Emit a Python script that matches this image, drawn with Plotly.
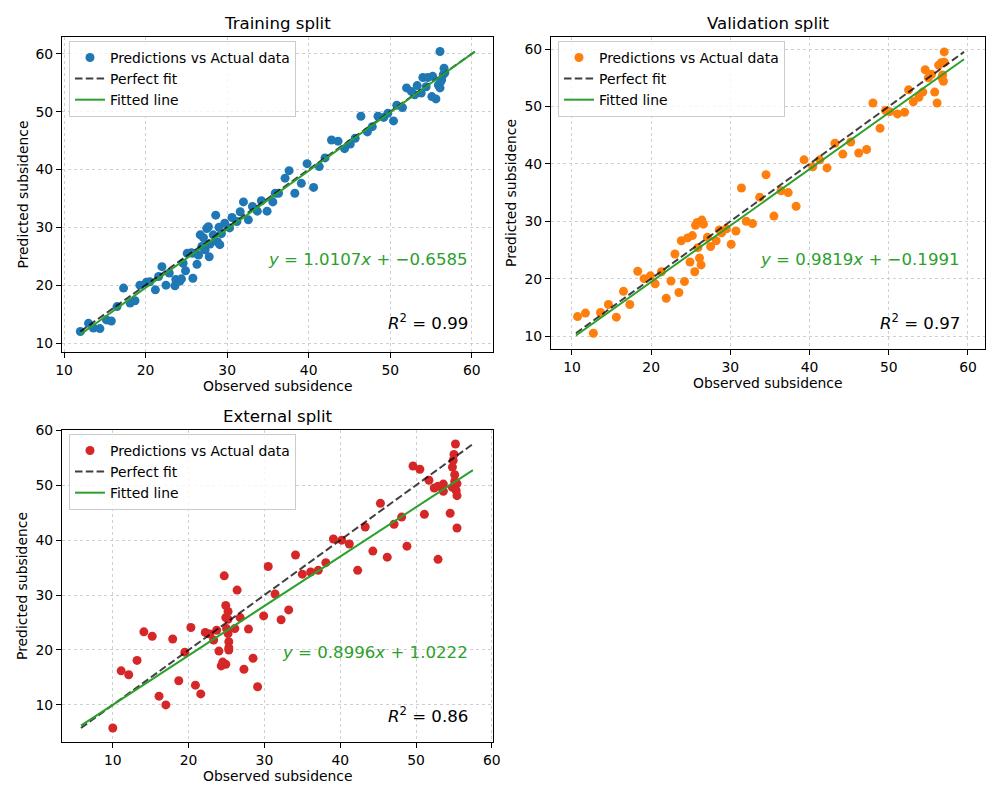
import numpy as np
import plotly.graph_objects as go

# ---------------- data ----------------
train_obs = [12.0, 13.0, 13.6, 14.4, 15.2, 15.8, 16.5, 17.3, 18.1, 18.7, 19.3, 20.1, 20.5, 21.2, 21.6,
             22.0, 22.5, 22.9, 23.6, 23.7, 24.2, 24.4, 24.9, 24.6, 25.1, 25.6, 25.8, 25.8, 26.5, 26.3,
             26.7, 26.9, 27.1, 27.3, 27.5, 27.7, 27.8, 27.9, 28.3, 28.6, 28.8, 29.1, 29.0, 29.3, 29.7,
             30.3, 30.6, 31.2, 31.6, 32.0, 32.6, 33.1, 33.7, 34.2, 34.9, 35.9, 35.6, 36.3, 37.1, 37.6,
             38.3, 39.1, 39.8, 40.6, 41.3, 42.0, 42.8, 43.6, 44.4, 45.1, 45.7, 46.4, 47.2, 47.8, 48.5,
             49.2, 49.7, 50.4, 50.8, 51.5, 52.0, 52.6, 53.0, 53.3, 53.8, 54.0, 54.4, 54.6, 55.1, 55.6,
             55.2, 55.9, 56.1, 56.1, 56.3, 56.5, 56.6, 56.7, 56.2]
train_pred = [12.0, 13.4, 12.6, 12.5, 14.0, 13.8, 16.3, 19.5, 16.9, 17.3, 20.0, 20.5, 20.6, 19.2, 21.5,
              23.2, 20.0, 22.1, 19.9, 21.0, 20.7, 21.1, 22.5, 23.8, 25.5, 25.6, 21.2, 25.5, 25.2, 23.6,
              28.7, 26.7, 28.2, 26.1, 29.8, 30.1, 24.9, 27.1, 28.7, 32.1, 27.5, 27.0, 30.0, 28.9, 30.7,
              29.9, 31.7, 31.0, 32.7, 34.4, 31.3, 33.6, 32.8, 34.6, 32.8, 35.9, 34.4, 35.9, 38.5, 39.8,
              35.9, 37.6, 41.0, 36.9, 40.5, 42.0, 45.1, 44.9, 43.6, 44.4, 45.4, 49.2, 46.5, 47.4, 49.2,
              49.0, 49.7, 48.4, 51.1, 50.7, 54.1, 53.5, 52.9, 54.5, 53.2, 55.9, 54.3, 55.9, 52.6, 52.2,
              56.1, 54.6, 60.4, 54.1, 55.5, 56.4, 57.5, 56.7, 55.2]

val_obs = [10.7, 11.7, 12.7, 13.6, 14.6, 15.6, 16.5, 17.3, 18.3, 19.1, 19.9, 20.5, 21.3, 21.9, 22.5,
           23.0, 23.5, 23.8, 24.2, 24.6, 24.9, 25.2, 25.5, 25.6, 25.8, 25.9, 26.1, 26.3, 26.4, 26.6,
           27.1, 27.5, 28.2, 28.6, 28.9, 29.5, 30.1, 30.7, 31.4, 32.0, 32.8, 33.7, 34.5, 35.5, 36.4,
           37.3, 38.3, 39.3, 40.4, 41.3, 42.2, 43.2, 44.2, 45.2, 46.2, 47.2, 48.0, 48.9, 49.6, 50.1,
           51.1, 52.0, 52.5, 53.1, 53.8, 54.3, 54.6, 55.0, 55.4, 55.8, 56.1, 56.3, 56.6, 56.7, 56.9,
           57.0, 57.0, 56.8]
val_pred = [13.4, 14.0, 10.5, 14.1, 15.5, 13.3, 17.8, 15.5, 21.3, 20.0, 20.5, 19.1, 21.2, 16.6, 19.6,
            24.3, 17.6, 26.6, 19.5, 27.1, 22.9, 27.5, 21.2, 29.3, 29.8, 25.4, 23.6, 22.4, 30.2, 29.5,
            27.2, 25.6, 26.6, 28.5, 28.0, 28.7, 26.0, 28.3, 35.8, 30.0, 29.6, 34.2, 38.1, 30.9, 35.3,
            35.0, 32.6, 40.7, 39.5, 40.7, 39.3, 43.6, 41.7, 43.8, 41.9, 42.5, 50.6, 46.2, 49.3, 49.1,
            48.7, 49.0, 52.9, 50.8, 51.6, 52.5, 56.4, 55.0, 55.6, 52.5, 50.6, 57.2, 57.6, 55.0, 54.4,
            59.5, 57.7, 55.5]

ext_obs = [10.0, 11.1, 12.1, 13.2, 14.1, 15.2, 16.1, 17.0, 17.9, 18.7, 19.5, 20.3, 20.9, 21.6, 22.2,
           22.8, 23.3, 23.7, 24.0, 24.3, 24.5, 24.7, 24.9, 24.9, 25.0, 25.2, 25.2, 25.3, 25.3, 25.3,
           24.9, 25.2, 26.1, 26.4, 26.8, 27.3, 27.9, 28.5, 29.1, 29.9, 30.5, 31.4, 32.2, 33.2, 34.1,
           35.0, 36.1, 37.1, 38.1, 39.1, 40.2, 41.2, 42.3, 43.3, 44.3, 45.3, 46.2, 47.1, 48.1, 48.8,
           49.6, 50.5, 51.1, 51.7, 52.4, 52.9, 52.9, 53.6, 53.6, 54.5, 54.8, 54.8, 54.9, 55.0, 55.1,
           55.1, 55.2, 55.3, 55.4, 55.4, 55.4]
ext_pred = [5.8, 16.2, 15.5, 18.1, 23.3, 22.5, 11.6, 10.0, 22.0, 14.4, 19.6, 24.1, 13.6, 12.0, 23.2,
            22.9, 21.8, 23.6, 19.8, 17.1, 17.8, 33.5, 28.1, 25.9, 23.9, 27.0, 23.0, 21.5, 20.4, 20.0,
            17.4, 25.6, 23.9, 30.9, 25.9, 16.5, 23.8, 18.5, 13.3, 26.2, 35.2, 30.2, 25.5, 27.3, 37.3,
            33.8, 34.2, 34.5, 35.9, 40.2, 40.0, 39.3, 34.5, 42.4, 38.0, 46.7, 36.9, 42.9, 44.2, 38.9,
            53.5, 52.9, 44.7, 50.9, 49.5, 36.5, 49.8, 48.9, 50.2, 44.9, 49.6, 53.3, 54.5, 55.6, 51.9,
            50.7, 57.5, 49.0, 48.1, 42.2, 50.3]

split_titles = ["Training split", "Validation split", "External split"]
slopes = [1.0107, 0.9819, 0.8996]
intercepts = [-0.6585, -0.1991, 1.0222]
r2_values = [0.99, 0.97, 0.86]
point_colors = ["#1f77b4", "#ff7f0e", "#d62728"]
x_ranges = [[9.75, 62.6], [7.35, 62.15], [3.3, 60.15]]
y_ranges = [[8.45, 62.9], [7.75, 62.1], [3.25, 60.05]]
tick_vals = [10, 20, 30, 40, 50, 60]

# ---------------- layout geometry (pixels) ----------------
W, H = 1000, 800
boxes = [(62, 493, 37, 352), (551, 985, 37, 349), (62, 493, 430, 742)]  # left, right, top, bottom

FONT = "DejaVu Sans"
FS = 13.9
fig = go.Figure()
datasets = [(train_obs, train_pred), (val_obs, val_pred), (ext_obs, ext_pred)]
legend_names = ["legend", "legend2", "legend3"]
annotations = []
layout_axes = {}

for i, ((obs, pred), (l, r, t, b)) in enumerate(zip(datasets, boxes)):
    sfx = "" if i == 0 else str(i + 1)
    xa, ya = "x" + sfx, "y" + sfx
    obs = np.array(obs)
    pred = np.array(pred)
    lo = float(min(obs.min(), pred.min()))
    hi = float(max(obs.max(), pred.max()))
    line_x = np.array([lo, hi])
    fit_y = slopes[i] * line_x + intercepts[i]
    lg = legend_names[i]

    fig.add_trace(go.Scatter(x=obs, y=pred, mode="markers", name="Predictions vs Actual data",
                             marker=dict(color=point_colors[i], size=9, line=dict(width=0)),
                             xaxis=xa, yaxis=ya, legend=lg))
    fig.add_trace(go.Scatter(x=line_x, y=line_x, mode="lines", name="Perfect fit",
                             line=dict(color="rgba(0,0,0,0.75)", width=2, dash="7.5px,3.3px"),
                             xaxis=xa, yaxis=ya, legend=lg))
    fig.add_trace(go.Scatter(x=line_x, y=fit_y, mode="lines", name="Fitted line",
                             line=dict(color="#2ca02c", width=2),
                             xaxis=xa, yaxis=ya, legend=lg))

    common = dict(showline=True, mirror=True, linecolor="black", linewidth=1,
                  ticks="outside", ticklen=5, tickcolor="black", tickwidth=1,
                  tickvals=tick_vals, tickfont=dict(family=FONT, size=FS, color="black"),
                  showgrid=True, gridcolor="#d0d0d0", griddash="dot", gridwidth=1,
                  zeroline=False, fixedrange=True, automargin=False)
    layout_axes["xaxis" + sfx] = dict(common, domain=[l / W, r / W], range=x_ranges[i],
                                      anchor=ya)
    layout_axes["yaxis" + sfx] = dict(common, domain=[1 - b / H, 1 - t / H], range=y_ranges[i],
                                      anchor=xa)

    layout_axes[lg] = dict(x=(l + 7) / W, y=1 - (t + 4) / H, xanchor="left", yanchor="top",
                           bgcolor="rgba(255,255,255,0.8)", bordercolor="#cccccc", borderwidth=1,
                           font=dict(family=FONT, size=FS, color="black"),
                           tracegroupgap=0, itemwidth=30)

    cx = (l + r) / 2
    annotations.append(dict(text=split_titles[i], x=cx / W, y=1 - (t - 14) / H, xref="paper",
                            yref="paper", showarrow=False, xanchor="center", yanchor="middle",
                            font=dict(family=FONT, size=16.6, color="black")))
    annotations.append(dict(text="Observed subsidence", x=cx / W, y=1 - (b + 34) / H,
                            xref="paper", yref="paper", showarrow=False, xanchor="center",
                            yanchor="middle", font=dict(family=FONT, size=FS, color="black")))
    annotations.append(dict(text="Predicted subsidence", x=(l - 40) / W, y=1 - ((t + b) / 2) / H,
                            xref="paper", yref="paper", showarrow=False, textangle=-90,
                            xanchor="center", yanchor="middle",
                            font=dict(family=FONT, size=FS, color="black")))
    sign_txt = f"{intercepts[i]:.4f}".replace("-", "\u2212")
    eq = f"<i>y</i> = {slopes[i]:.4f}<i>x</i> + {sign_txt}"
    annotations.append(dict(text=eq, x=(r - 23) / W, y=1 - (t + 222) / H, xref="paper",
                            yref="paper", showarrow=False, xanchor="right", yanchor="middle",
                            font=dict(family=FONT, size=16.6, color="#2ca02c")))
    annotations.append(dict(text=f"<i>R</i><sup>2</sup> = {r2_values[i]:.2f}", x=(r - 23) / W,
                            y=1 - (t + 285) / H, xref="paper", yref="paper", showarrow=False,
                            xanchor="right", yanchor="middle",
                            font=dict(family=FONT, size=16.6, color="black")))

fig.update_layout(width=W, height=H, margin=dict(l=0, r=0, t=0, b=0, autoexpand=False),
                  paper_bgcolor="white", plot_bgcolor="white",
                  font=dict(family=FONT, color="black"),
                  annotations=annotations, **layout_axes)

fig.write_html("out.html")
